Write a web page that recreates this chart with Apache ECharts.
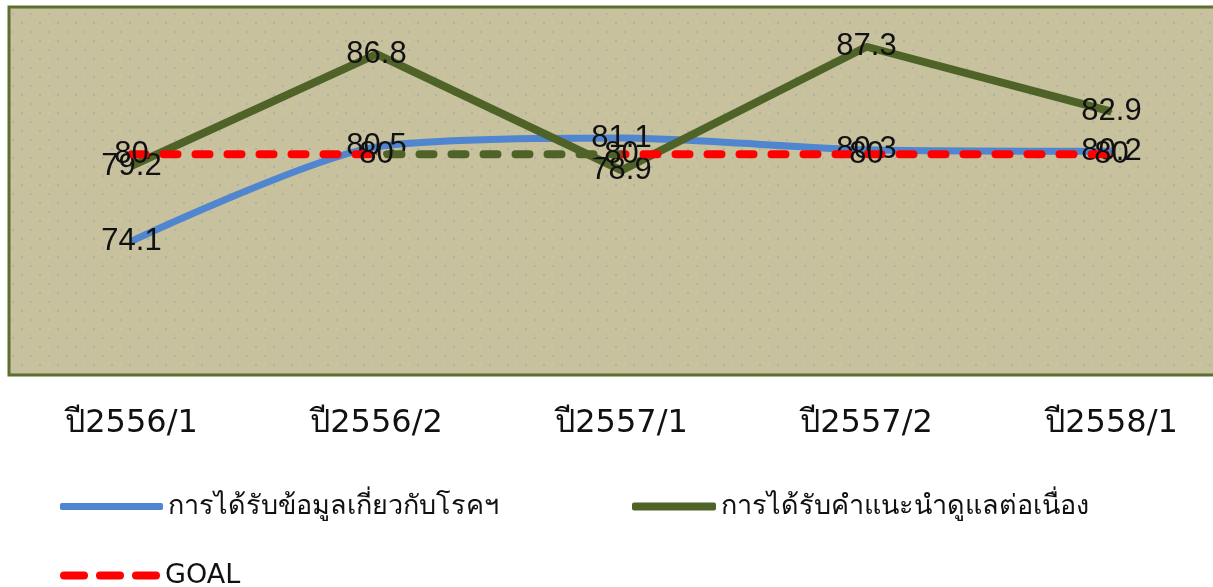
<!DOCTYPE html>
<html>
<head>
<meta charset="utf-8">
<script src="https://cdn.jsdelivr.net/npm/echarts@6/dist/echarts.min.js"></script>
<style>
  html, body { margin: 0; padding: 0; background: #ffffff; }
  #chart { width: 1213px; height: 587px; }
</style>
</head>
<body>
<div id="chart"></div>
<script>
// Survey terms
const categories = ['ปี2556/1', 'ปี2556/2', 'ปี2557/1', 'ปี2557/2', 'ปี2558/1'];

// Percentages per term
const infoValues = [74.1, 80.5, 81.1, 80.3, 80.2];
const adviceValues = [79.2, 86.8, 78.9, 87.3, 82.9];
const goalValues = [80, 80, 80, 80, 80];

const infoName = 'การได้รับข้อมูลเกี่ยวกับโรคฯ';
const adviceName = 'การได้รับคำแนะนำดูแลต่อเนื่อง';
const goalName = 'GOAL';

const BLUE = '#4f86cf';
const GREEN = '#4f6228';
const RED = '#ff0000';

// Dotted tan fill for the plot area
function makeDots() {
  const c = document.createElement('canvas');
  c.width = 18; c.height = 18;
  const g = c.getContext('2d');
  g.fillStyle = '#c8c19d';
  g.fillRect(0, 0, 18, 18);
  g.fillStyle = 'rgba(140,175,170,0.6)';
  g.fillRect(3, 4, 2, 2);
  g.fillStyle = 'rgba(180,160,190,0.6)';
  g.fillRect(12, 13, 2, 2);
  g.fillStyle = 'rgba(230,225,170,0.6)';
  g.fillRect(12, 4, 1, 1);
  return c;
}

const labelStyle = {
  show: true,
  position: 'inside',
  color: '#111111',
  fontSize: 31,
  fontFamily: 'Liberation Sans, Arial, sans-serif'
};

const textFont = 'DejaVu Sans, Noto Sans, sans-serif';

// Three short dashes for the GOAL legend key
const dashIcon = 'path://M4,0h20a4,4 0 0 1 0,8h-20a4,4 0 0 1 0,-8z' +
  'M40,0h20a4,4 0 0 1 0,8h-20a4,4 0 0 1 0,-8z' +
  'M76,0h20a4,4 0 0 1 0,8h-20a4,4 0 0 1 0,-8z';

const chart = echarts.init(document.getElementById('chart'), null, { renderer: 'canvas' });

chart.setOption({
  animation: false,
  backgroundColor: '#ffffff',
  grid: {
    left: 9,
    top: 7,
    right: -21,
    height: 368,
    outerBoundsMode: 'none',
    show: true,
    backgroundColor: { image: makeDots(), repeat: 'repeat' },
    borderColor: '#5d6f30',
    borderWidth: 3
  },
  xAxis: {
    type: 'category',
    data: categories,
    boundaryGap: true,
    axisLine: { show: false },
    axisTick: { show: false },
    axisLabel: {
      color: '#111111',
      fontSize: 32,
      margin: 33,
      fontFamily: textFont
    }
  },
  yAxis: {
    type: 'value',
    min: 65,
    max: 90,
    interval: 5,
    show: false,
    splitLine: { show: false }
  },
  visualMap: {
    show: false,
    type: 'piecewise',
    seriesIndex: 2,
    dimension: 0,
    pieces: [
      { lt: 1, color: RED },
      { gte: 1, lte: 2, color: GREEN },
      { gt: 2, color: RED }
    ]
  },
  legend: [
    {
      left: 55, top: 488,
      data: [{ name: infoName, icon: 'roundRect', itemStyle: { color: BLUE } }],
      itemWidth: 103, itemHeight: 7,
      itemStyle: { borderWidth: 0 },
      textStyle: { fontSize: 27, color: '#111111', fontFamily: textFont }
    },
    {
      left: 627, top: 488,
      data: [{ name: adviceName, icon: 'roundRect', itemStyle: { color: GREEN } }],
      itemWidth: 84, itemHeight: 8,
      itemStyle: { borderWidth: 0 },
      textStyle: { fontSize: 27, color: '#111111', fontFamily: textFont }
    },
    {
      left: 55, top: 557,
      data: [{ name: goalName, icon: dashIcon, itemStyle: { color: RED } }],
      itemWidth: 100, itemHeight: 8,
      itemStyle: { borderWidth: 0 },
      textStyle: { fontSize: 27, color: '#111111', fontFamily: textFont }
    }
  ],
  series: [
    {
      name: infoName,
      type: 'line',
      data: infoValues,
      smooth: 0.25,
      symbol: 'circle',
      symbolSize: 2,
      color: BLUE,
      lineStyle: { color: BLUE, width: 7 },
      label: labelStyle,
      z: 2
    },
    {
      name: adviceName,
      type: 'line',
      data: adviceValues,
      symbol: 'circle',
      symbolSize: 2,
      color: GREEN,
      lineStyle: { color: GREEN, width: 8 },
      label: labelStyle,
      z: 3
    },
    {
      name: goalName,
      type: 'line',
      data: goalValues,
      symbol: 'circle',
      symbolSize: 2,
      color: RED,
      lineStyle: { width: 8, type: [14, 18], cap: 'round' },
      label: labelStyle,
      z: 4
    }
  ]
});
</script>
</body>
</html>
